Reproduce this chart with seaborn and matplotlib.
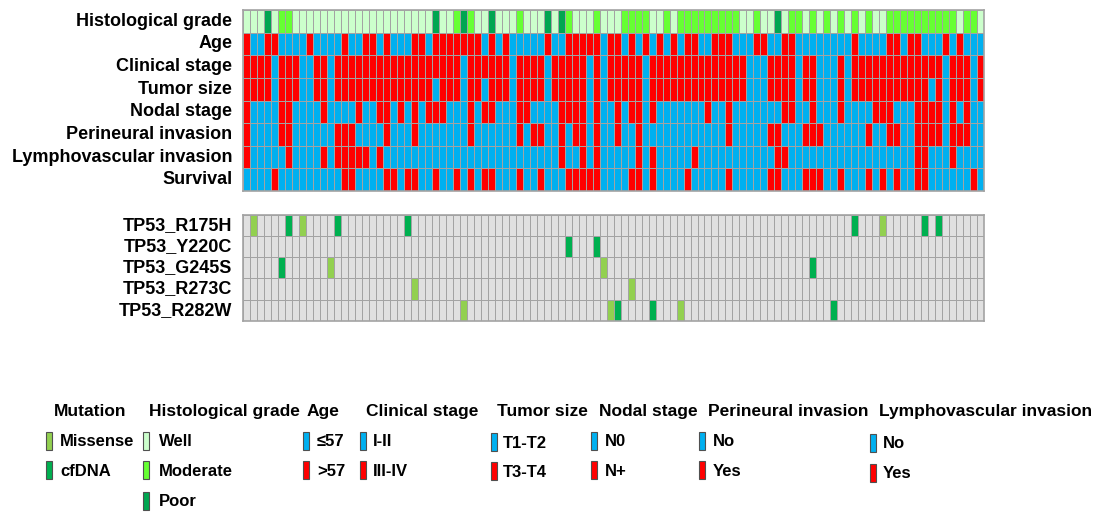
import numpy as np
import pandas as pd
import matplotlib
matplotlib.use("Agg")
import matplotlib.pyplot as plt
from matplotlib.colors import ListedColormap
from matplotlib.patches import Rectangle
import seaborn as sns

# --- Datos: 106 pacientes, una columna por paciente ---
# grado histológico: W = Well, M = Moderate, P = Poor
grade = ("WWWPWMMWWWWWWWWWWWWWWWWWWW"
         "WPWWMPMWWPWWWMWWWPWPMWWWMWW"
         "WMMMMWWMWMMMMMMMMMWWMWWPWM"
         "MWMWMWMWMWMWWMMMMMMMMMMWMMW")
# variables binarias: 0 = azul (categoría baja), 1 = rojo (categoría alta)
age = ("1001100001" "0000100110" "100011"
       "0111111101" "0100000100" "1111101"
       "1010101010" "1100111000" "110011"
       "0000000010" "0001101100" "0101000")
clinical_stage = ("1111011100" "1101111111" "111111"
                  "1111101111" "1101111011" "1110101"
                  "1111011111" "1111111110" "001111"
                  "0110001011" "1111111111" "1011101")
tumor_size = ("1111011100" "1101111111" "111111"
              "1011101101" "1101111011" "1110101"
              "1111011111" "1111111110" "001111"
              "0110001011" "1111111110" "1011101")
nodal_stage = ("1000011000" "0100001001" "101010"
               "1110001011" "0001100001" "1110100"
               "1011010000" "0001001000" "000011"
               "0010001000" "0111000111" "1010100")
perineural = ("1000011000" "0001110000" "100010"
              "0000001000" "0001011001" "0110100"
              "1001000000" "0000001000" "001100"
              "0111000000" "1001100111" "1011100")
lymphovascular = ("1000001000" "0101111101" "000000"
                  "0000000000" "0000000001" "0010100"
                  "0001010000" "0100000000" "000110"
                  "0000000000" "0000000110" "0010000")
survival = ("0000100000" "0000110000" "110110"
            "0100101011" "0001001000" "1111100"
            "0011010000" "1000001000" "001100"
            "0111001000" "1010100110" "0000010")

clin_labels = ["Histological grade", "Age", "Clinical stage", "Tumor size",
               "Nodal stage", "Perineural invasion", "Lymphovascular invasion", "Survival"]

# mutaciones: índices de columna (paciente) con mutación missense o en cfDNA
mut_labels = ["TP53_R175H", "TP53_Y220C", "TP53_G245S", "TP53_R273C", "TP53_R282W"]
missense = {"TP53_R175H": [1, 8, 91], "TP53_Y220C": [], "TP53_G245S": [12, 51],
            "TP53_R273C": [24, 55], "TP53_R282W": [31, 52, 62]}
cfdna = {"TP53_R175H": [6, 13, 23, 87, 97, 99], "TP53_Y220C": [46, 50], "TP53_G245S": [5, 81],
         "TP53_R273C": [], "TP53_R282W": [53, 58, 84]}

# --- Colores ---
BLUE, RED = "#00B0F0", "#FF0000"
WELL, MODERATE, POOR = "#CCFFCC", "#66FF33", "#00A651"
MISSENSE, CFDNA, EMPTY = "#92D050", "#00B050", "#E0E0E0"
GRID = "#a3a3a3"

sns.set_theme(style="white")
plt.rcParams["font.family"] = ["Liberation Sans", "DejaVu Sans"]
plt.rcParams["text.color"] = "black"

# --- Matrices ---
n = len(grade)
grade_code = {"W": 2, "M": 3, "P": 4}
clin_rows = [[grade_code[c] for c in grade]]
for s in [age, clinical_stage, tumor_size, nodal_stage, perineural, lymphovascular, survival]:
    clin_rows.append([int(c) for c in s])
df_clin = pd.DataFrame(clin_rows, index=clin_labels, columns=range(n))

mut = np.zeros((len(mut_labels), n), dtype=int)
for i, g in enumerate(mut_labels):
    mut[i, missense[g]] = 1
    mut[i, cfdna[g]] = 2
df_mut = pd.DataFrame(mut, index=mut_labels, columns=range(n))

W, H = 1096, 512
fig = plt.figure(figsize=(W / 100, H / 100), dpi=100)

def px_axes(x0, y0, x1, y1):
    return fig.add_axes([x0 / W, 1 - y1 / H, (x1 - x0) / W, (y1 - y0) / H])

ax1 = px_axes(243.3, 10, 984, 191)
sns.heatmap(df_clin, ax=ax1, cmap=ListedColormap([BLUE, RED, WELL, MODERATE, POOR]),
            vmin=-0.5, vmax=4.5, cbar=False, linewidths=0.7, linecolor=GRID,
            xticklabels=False, yticklabels=True)

ax2 = px_axes(243.3, 214.7, 984, 320.7)
sns.heatmap(df_mut, ax=ax2, cmap=ListedColormap([EMPTY, MISSENSE, CFDNA]),
            vmin=-0.5, vmax=2.5, cbar=False, linewidths=0.7, linecolor=GRID,
            xticklabels=False, yticklabels=True)

for ax in [ax1, ax2]:
    ax.set_xlabel("")
    ax.set_ylabel("")
    ax.tick_params(axis="y", length=0, pad=8)
    for lab in ax.get_yticklabels():
        lab.set_rotation(0)
        lab.set_fontweight("bold")
        lab.set_fontsize(13)
        lab.set_color("black")
    for sp in ax.spines.values():
        sp.set_visible(True)
        sp.set_color(GRID)
        sp.set_linewidth(1.2)

# --- Leyenda ---
def fx(x):
    return x / W

def fy(y):
    return 1 - y / H

groups = [
    ("Mutation", 54, 46, 60, [("Missense", MISSENSE), ("cfDNA", CFDNA)], [440.5, 469.5]),
    ("Histological grade", 149, 143, 159, [("Well", WELL), ("Moderate", MODERATE), ("Poor", POOR)],
     [440.5, 469.5, 500.5]),
    ("Age", 307, 303, 317, [("\u226457", BLUE), (">57", RED)], [440.5, 469.5]),
    ("Clinical stage", 366, 360, 373, [("I-II", BLUE), ("III-IV", RED)], [440.5, 469.5]),
    ("Tumor size", 497, 491, 503, [("T1-T2", BLUE), ("T3-T4", RED)], [441.5, 471]),
    ("Nodal stage", 599, 591, 605, [("N0", BLUE), ("N+", RED)], [440.5, 469.5]),
    ("Perineural invasion", 708, 699, 713, [("No", BLUE), ("Yes", RED)], [440.5, 469.5]),
    ("Lymphovascular invasion", 879, 870, 883, [("No", BLUE), ("Yes", RED)], [442.5, 472.5]),
]
for title, tx, px, lx, items, ys in groups:
    fig.text(fx(tx), fy(416), title, fontsize=12.5, fontweight="bold", color="black",
             ha="left", va="baseline")
    for (lab, col), yc in zip(items, ys):
        fig.patches.append(Rectangle((fx(px), fy(yc + 9)), 6 / W, 18 / H, transform=fig.transFigure,
                                     facecolor=col, edgecolor="#505050", linewidth=0.8))
        fig.text(fx(lx), fy(yc + 6), lab, fontsize=12, fontweight="bold", color="black",
                 ha="left", va="baseline")

fig.savefig("out.png", dpi=100)
